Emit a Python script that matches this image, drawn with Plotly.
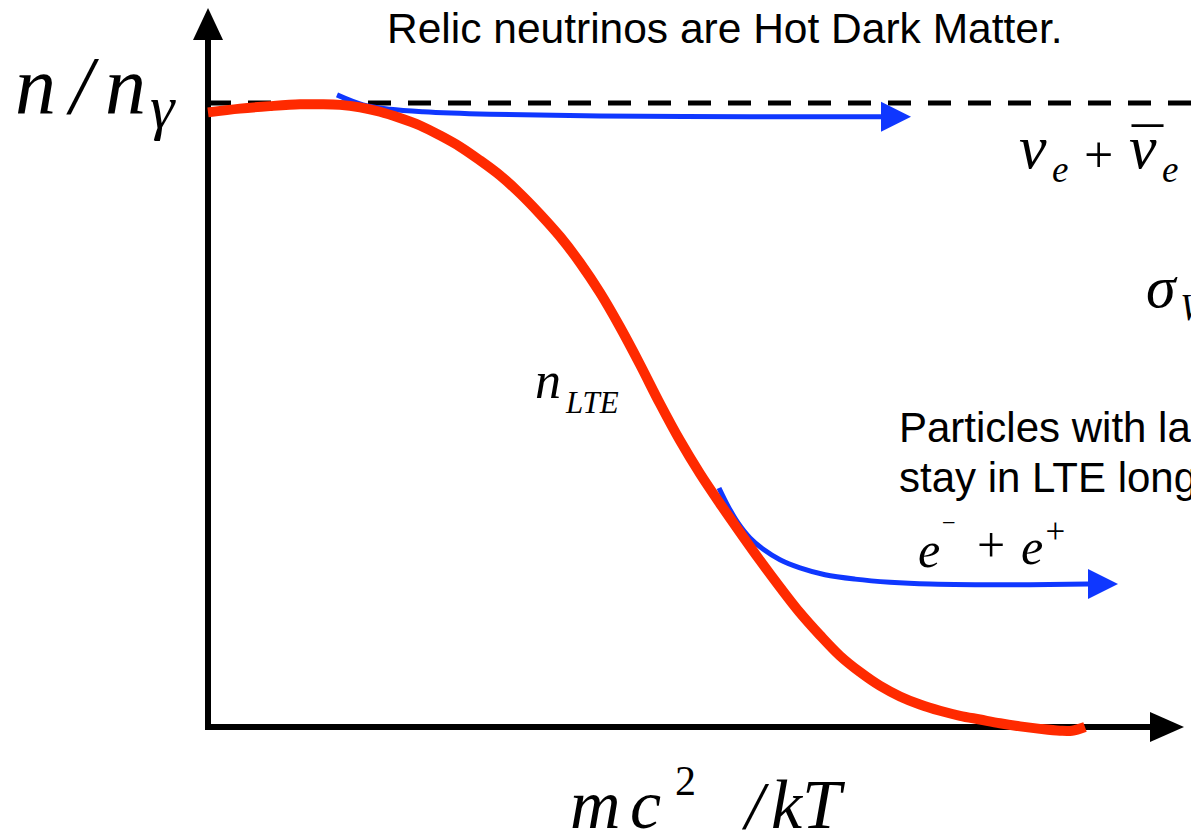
import plotly.graph_objects as go

# ---------------- data ----------------
# x : mc^2/kT (arbitrary schematic units), y : n/n_gamma (1 = relativistic value)
lte_x = [0.00, 0.32, 0.62, 0.92, 1.12, 1.32, 1.52, 1.72, 1.92, 2.12, 2.32, 2.52,
         2.72, 2.92, 3.12, 3.32, 3.52, 3.72, 3.92, 4.12, 4.32, 4.52, 4.72, 4.92,
         5.12, 5.32, 5.52, 5.72, 5.92, 6.12, 6.32, 6.52, 6.72, 6.92, 7.12, 7.32,
         7.52, 7.72, 7.92, 8.12, 8.32, 8.52, 8.64, 8.77]
lte_y = [0.985, 0.991, 0.995, 0.998, 0.998, 0.997, 0.993, 0.986, 0.976, 0.964, 0.948, 0.930,
         0.908, 0.884, 0.855, 0.822, 0.786, 0.744, 0.696, 0.641, 0.581, 0.518, 0.459, 0.406,
         0.358, 0.312, 0.267, 0.224, 0.183, 0.147, 0.114, 0.088, 0.066, 0.049, 0.036, 0.026,
         0.018, 0.012, 0.006, 0.001, -0.003, -0.006, -0.006, 0.000]

nu_x = [1.29, 1.55, 1.82, 2.15, 2.82, 3.92, 5.42, 6.73]
nu_y = [1.013, 0.997, 0.990, 0.986, 0.982, 0.979, 0.978, 0.978]

ee_x = [5.11, 5.20, 5.30, 5.42, 5.56, 5.72, 5.92, 6.17, 6.47, 6.82, 7.22, 7.72, 8.22, 8.80]
ee_y = [0.383, 0.354, 0.327, 0.303, 0.284, 0.268, 0.255, 0.244, 0.237, 0.232, 0.229, 0.228,
        0.228, 0.229]

equil_x = [0.0, 9.9]
equil_y = [1.0, 1.0]

# ---------------- geometry ----------------
W, H = 1191, 833
X0, XS = 208, 100.0   # pixel of x=0, pixels per unit
Y0, YS = 727, 624.0   # pixel of y=0, pixels per unit


def dx(px):
    return (px - X0) / XS


def dy(py):
    return (Y0 - py) / YS


def to_px(x, y):
    return X0 + x * XS, Y0 - y * YS


RED = '#FF2A00'
BLUE = '#0F37FF'
SERIF = 'Liberation Serif'
SANS = 'Liberation Sans'
METRICS = {SERIF: (0.891, 0.216), SANS: (0.905, 0.212)}

fig = go.Figure()

# equilibrium (dashed) level
fig.add_trace(go.Scatter(x=equil_x, y=equil_y, mode='lines',
                         line=dict(color='black', width=5, dash='23px,17px'),
                         hoverinfo='skip'))


def arrow_head(xs, ys, color, length=30, half=15):
    bx, by = to_px(xs[-1], ys[-1])
    pts = [(bx, by - half), (bx + length, by), (bx, by + half), (bx, by - half)]
    return go.Scatter(x=[dx(p[0]) for p in pts], y=[dy(p[1]) for p in pts],
                      mode='lines', fill='toself', fillcolor=color,
                      line=dict(width=0, color=color), hoverinfo='skip')


# freeze-out curves (blue)
fig.add_trace(go.Scatter(x=nu_x, y=nu_y, mode='lines',
                         line=dict(color=BLUE, width=5, shape='spline', smoothing=1.0),
                         hoverinfo='skip'))
fig.add_trace(arrow_head(nu_x, nu_y, BLUE))
fig.add_trace(go.Scatter(x=ee_x, y=ee_y, mode='lines',
                         line=dict(color=BLUE, width=5, shape='spline', smoothing=1.0),
                         hoverinfo='skip'))
fig.add_trace(arrow_head(ee_x, ee_y, BLUE))

# LTE curve (red)
fig.add_trace(go.Scatter(x=lte_x, y=lte_y, mode='lines',
                         line=dict(color=RED, width=10, shape='spline', smoothing=1.0),
                         hoverinfo='skip'))

# axes with arrows
shapes = [
    dict(type='line', xref='x', yref='y', x0=dx(208), y0=dy(730), x1=dx(208), y1=dy(36),
         line=dict(color='black', width=6), layer='below'),
    dict(type='path', xref='x', yref='y',
         path=f"M {dx(193)},{dy(40)} L {dx(208)},{dy(8)} L {dx(223)},{dy(40)} Z",
         fillcolor='black', line=dict(width=0), layer='below'),
    dict(type='line', xref='x', yref='y', x0=dx(205), y0=dy(727), x1=dx(1153), y1=dy(727),
         line=dict(color='black', width=6), layer='below'),
    dict(type='path', xref='x', yref='y',
         path=f"M {dx(1150)},{dy(712)} L {dx(1184)},{dy(727)} L {dx(1150)},{dy(742)} Z",
         fillcolor='black', line=dict(width=0), layer='below'),
]

annotations = []


def label(text, xpx, baseline, size, family=SERIF, italic=True, anchor='left'):
    asc, desc = METRICS[family]
    mid = baseline - (asc - desc) / 2 * size
    annotations.append(dict(
        text=text, xref='paper', yref='paper', x=xpx / W, y=1 - mid / H,
        xanchor=anchor, yanchor='middle', showarrow=False,
        borderpad=0, borderwidth=0,
        font=dict(family=family, size=size, color='black',
                  style='italic' if italic else 'normal')))


# caption
label('Relic neutrinos are Hot Dark Matter.', 725, 43, 42.5, SANS, False, 'center')
# side note (runs off the right edge, as in the original slide)
label('Particles with larger σ', 899, 442, 42, SANS, False)
label('stay in LTE longer', 899, 492, 42, SANS, False)

# y-axis label n / n_gamma
label('n', 15, 113, 82)
label('/', 66, 113, 82)
label('n', 105, 113, 82)
label('γ', 150, 128, 62)

# x-axis label mc^2 / kT
label('m', 570, 828, 70)
label('c', 630, 828, 70)
label('2', 675, 795, 42, SERIF, False)
label('/', 741, 828, 68)
label('kT', 771, 828, 70)

# n_LTE
label('n', 535, 398, 52)
label('LTE', 565, 413, 31)

# nu_e + nu_e-bar
label('ν', 1019, 168, 62)
label('e', 1052, 182, 37)
label('+', 1084, 172, 52, SERIF, False)
label('ν', 1129, 168, 62)
label('¯', 1131, 171, 62, SERIF, False)
label('e', 1162, 182, 37)

# sigma_W
label('σ', 1146, 307, 60)
label('W', 1180, 320, 37)

# e- + e+
label('e<sup><sup>−</sup></sup>', 918, 560, 50)
label('+', 977, 562, 50, SERIF, False)
label('e<sup>+</sup>', 1021, 560, 50)

fig.update_layout(
    width=W, height=H, margin=dict(l=0, r=0, t=0, b=0, pad=0),
    paper_bgcolor='white', plot_bgcolor='white', showlegend=False,
    xaxis=dict(visible=False, range=[dx(0), dx(W)], fixedrange=True),
    yaxis=dict(visible=False, range=[dy(H), dy(0)], fixedrange=True),
    shapes=shapes, annotations=annotations,
)

fig.write_html("out.html", config=dict(displayModeBar=False),
               post_script="document.body.style.margin='0';document.body.style.overflow='hidden';")
